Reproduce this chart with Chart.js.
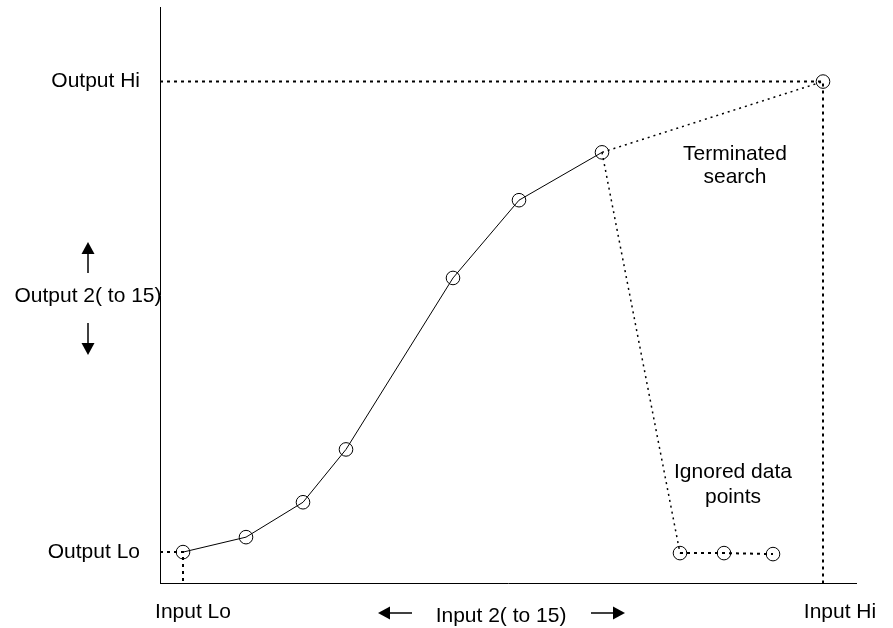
<!DOCTYPE html>
<html>
<head>
<meta charset="utf-8">
<script src="https://cdn.jsdelivr.net/npm/chart.js@4"></script>
<style>
  html, body { margin: 0; padding: 0; background: #fff; }
  #wrap { width: 893px; height: 628px; }
</style>
</head>
<body>
<div id="wrap"><canvas id="c"></canvas></div>
<script>
// Calibration range end points
const inputLo = 23, inputHi = 663;
const outputLo = 31, outputHi = 503;

// Breakpoints accepted by the search (first one is Input Lo / Output Lo)
const searchInputs  = [23, 86, 143, 186, 293, 359, 442];
const searchOutputs = [31, 46, 81, 134, 306, 384, 432];

// Breakpoints after the search terminated
const ignoredInputs  = [520, 564, 613];
const ignoredOutputs = [30, 30, 29];

// Axis tick labels
const outputTickLabels = ['Output Lo', 'Output Hi'];
const inputTickLabels  = ['Input Lo', 'Input Hi'];

const FONT = '"Liberation Sans", Arial, Helvetica, sans-serif';
const FONT_SIZE = 21;

const toPts = (xs, ys) => xs.map((x, i) => ({ x, y: ys[i] }));
const searchPts = toPts(searchInputs, searchOutputs);
const lastSearch = searchPts[searchPts.length - 1];
const hiPt = { x: inputHi, y: outputHi };

const dotted = { borderColor: '#000', borderWidth: 2, borderDash: [3, 4], pointRadius: 0, showLine: true, fill: false };
const ring = { pointStyle: 'circle', pointBorderColor: '#000', pointBackgroundColor: 'rgba(0,0,0,0)', pointBorderWidth: 1 };
const R = 6.8;

function arrow(ctx, x1, y1, x2, y2) {
  const ang = Math.atan2(y2 - y1, x2 - x1);
  const len = 12, half = 6.5;
  const bx = x2 - len * Math.cos(ang), by = y2 - len * Math.sin(ang);
  ctx.beginPath();
  ctx.moveTo(x1, y1);
  ctx.lineTo(bx, by);
  ctx.lineWidth = 1.5;
  ctx.strokeStyle = '#000';
  ctx.stroke();
  ctx.beginPath();
  ctx.moveTo(x2, y2);
  ctx.lineTo(bx - half * Math.sin(ang), by + half * Math.cos(ang));
  ctx.lineTo(bx + half * Math.sin(ang), by - half * Math.cos(ang));
  ctx.closePath();
  ctx.fillStyle = '#000';
  ctx.fill();
}

const notes = {
  id: 'notes',
  afterDraw(chart) {
    const { ctx, scales: { x } } = chart;
    ctx.save();
    ctx.font = FONT_SIZE + 'px ' + FONT;
    ctx.fillStyle = '#000';
    ctx.textAlign = 'center';
    ctx.textBaseline = 'alphabetic';

    // input range labels
    ctx.fillText(inputTickLabels[0], x.getPixelForValue(inputLo) + 10, 618);
    ctx.fillText(inputTickLabels[1], x.getPixelForValue(inputHi) + 17, 618);

    // axis titles with direction arrows
    ctx.fillText('Input 2( to 15)', 501, 622);
    arrow(ctx, 412, 613, 378, 613);
    arrow(ctx, 591, 613, 625, 613);

    ctx.fillText('Output 2( to 15)', 88, 302);
    arrow(ctx, 88, 273, 88, 242);
    arrow(ctx, 88, 323, 88, 355);

    // annotations
    ctx.fillText('Terminated', 735, 160);
    ctx.fillText('search', 735, 183);
    ctx.fillText('Ignored data', 733, 478);
    ctx.fillText('points', 733, 503);
    ctx.restore();
  }
};

const noPad = s => { s.paddingTop = 0; s.paddingBottom = 0; s.paddingLeft = 0; s.paddingRight = 0; };

new Chart(document.getElementById('c'), {
  type: 'scatter',
  data: {
    datasets: [
      { ...dotted, data: [{ x: 0, y: outputHi }, hiPt, { x: inputHi, y: 0 }] },
      { ...dotted, data: [{ x: 0, y: outputLo }, searchPts[0], { x: inputLo, y: 0 }] },
      { ...dotted, borderWidth: 1.5, borderDash: [2, 4], data: [lastSearch, hiPt] },
      { ...dotted, ...ring, borderWidth: 1.5, borderDash: [2, 4],
        pointRadius: [0, R, R, R],
        data: [lastSearch, ...toPts(ignoredInputs, ignoredOutputs)],
        segment: { borderWidth: c => c.p0DataIndex === 0 ? 1.5 : 2, borderDash: c => c.p0DataIndex === 0 ? [2, 4] : [3, 4] } },
      { ...ring, showLine: true, borderColor: '#000', borderWidth: 1, pointRadius: R, data: searchPts },
      { ...ring, showLine: false, pointRadius: R, data: [hiPt] }
    ]
  },
  options: {
    responsive: true,
    maintainAspectRatio: false,
    animation: false,
    devicePixelRatio: 1,
    layout: { padding: { top: 6, right: 37, left: 0, bottom: 0 } },
    plugins: { legend: { display: false }, tooltip: { enabled: false } },
    scales: {
      x: {
        type: 'linear', min: 0, max: 696,
        grid: { display: false },
        border: { display: true, color: '#000', width: 1 },
        ticks: { display: false },
        afterFit: s => { s.height = 45; noPad(s); }
      },
      y: {
        type: 'linear', min: 0, max: 577,
        grid: { display: false, drawTicks: false },
        border: { display: true, color: '#000', width: 1 },
        afterBuildTicks: s => { s.ticks = [{ value: outputLo }, { value: outputHi }]; },
        ticks: {
          padding: 20,
          color: '#000',
          font: { family: FONT, size: FONT_SIZE },
          callback: v => v === outputLo ? outputTickLabels[0] : (v === outputHi ? outputTickLabels[1] : '')
        },
        afterFit: s => { s.width = 160; noPad(s); }
      }
    }
  },
  plugins: [notes]
});
</script>
</body>
</html>
